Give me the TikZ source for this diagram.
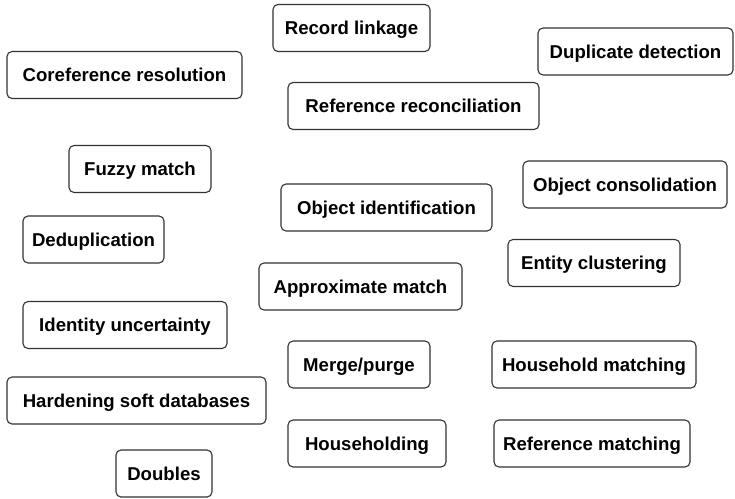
\documentclass[tikz,border=0pt]{standalone}
\usepackage{fontspec}
\setmainfont{Liberation Sans}
\begin{document}
\begin{tikzpicture}[x=1pt,y=-1pt,
  term/.style={draw=black!80, line width=1.1pt, rounded corners=5pt,
    minimum height=47pt, inner sep=0pt, text height=13.4pt, text depth=0pt,
    font=\fontsize{18.6}{20}\selectfont\bfseries, align=center}]
\useasboundingbox (0,0) rectangle (735,498);
\node[term, minimum width=157pt] (rl)  at (351.5,28)   {Record linkage};
\node[term, minimum width=195pt] (dd)  at (635.5,51.5) {Duplicate detection};
\node[term, minimum width=235pt] (cr)  at (124.5,75)   {Coreference resolution};
\node[term, minimum width=251pt] (rr)  at (413.5,106)  {Reference reconciliation};
\node[term, minimum width=142pt] (fm)  at (140,169)    {Fuzzy match};
\node[term, minimum width=204pt] (oc)  at (625,184.5)  {Object consolidation};
\node[term, minimum width=211pt] (oi)  at (386.5,207.5){Object identification};
\node[term, minimum width=141pt] (de)  at (93.5,239.5) {Deduplication};
\node[term, minimum width=172pt] (ec)  at (594,263)    {Entity clustering};
\node[term, minimum width=203pt] (am)  at (360.5,286.5){Approximate match};
\node[term, minimum width=204pt] (iu)  at (125,325)    {Identity uncertainty};
\node[term, minimum width=142pt] (mp)  at (359,364.5)  {Merge/purge};
\node[term, minimum width=204pt] (hm)  at (594,364.5)  {Household matching};
\node[term, minimum width=259pt] (hs)  at (136.5,400.5){Hardening soft databases};
\node[term, minimum width=158pt] (hh)  at (367,443.5)  {Householding};
\node[term, minimum width=196pt] (rm)  at (592,443.5)  {Reference matching};
\node[term, minimum width=96pt]  (db)  at (164,473.5)  {Doubles};
\end{tikzpicture}
\end{document}
